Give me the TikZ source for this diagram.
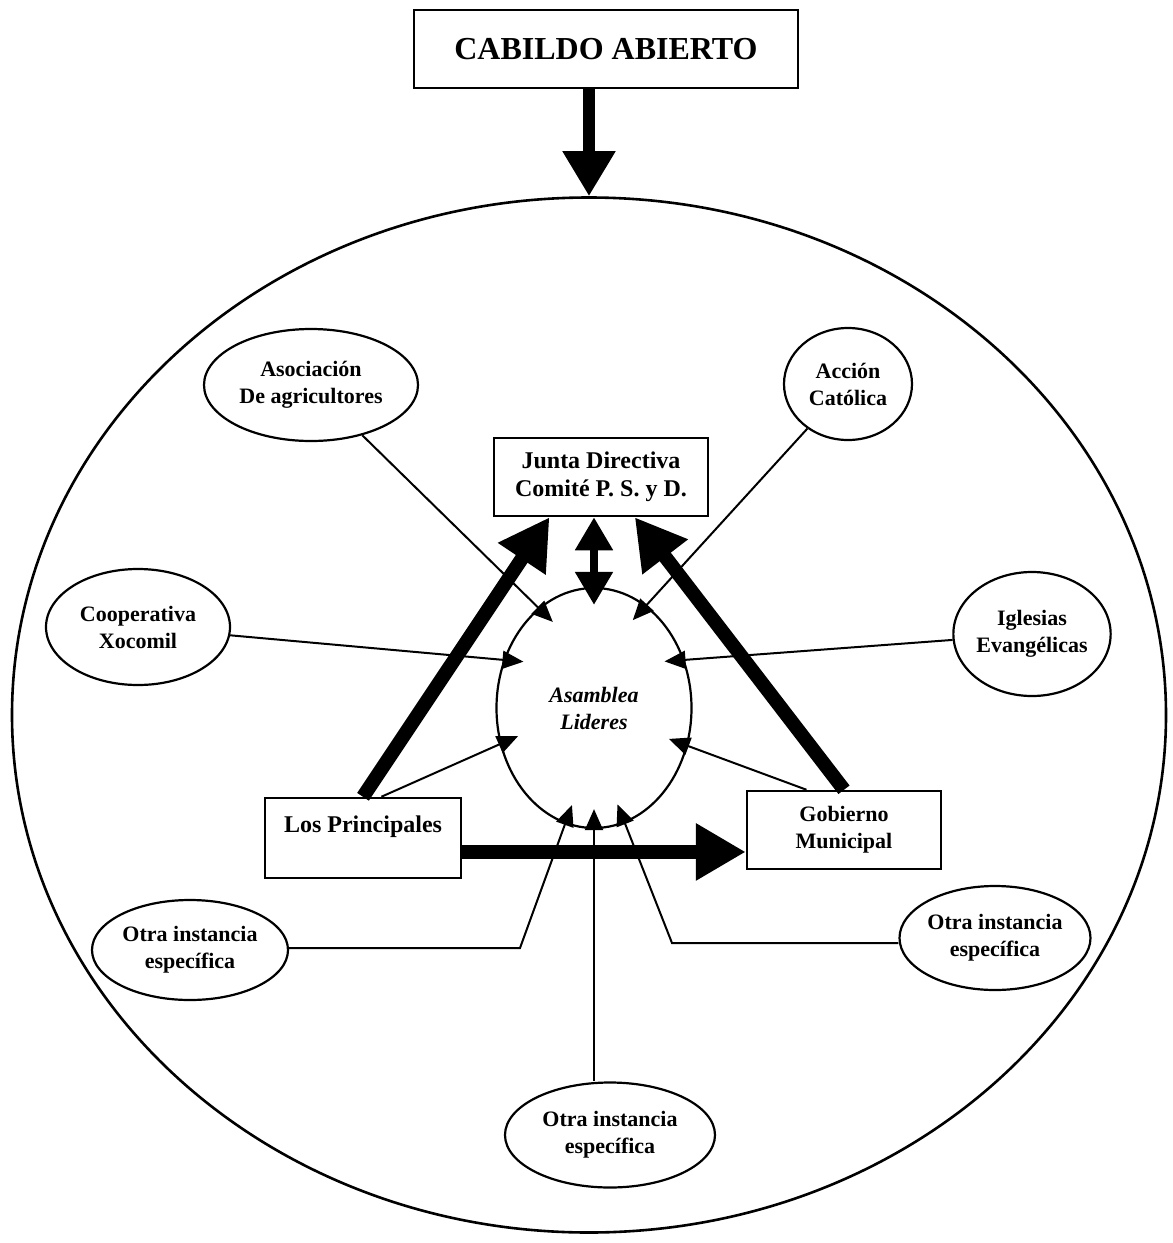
\documentclass[tikz,border=0pt]{standalone}
\usepackage{fontspec}
\setmainfont{Liberation Serif}
\usetikzlibrary{shapes.geometric,arrows.meta}
\tikzset{every node/.style={font=\bfseries\fontsize{22}{27}\selectfont, align=center}}

\begin{document}
\begin{tikzpicture}[x=1pt, y=-1pt,
    org/.style={draw, ellipse, line width=2.2pt, inner sep=0pt},
    caja/.style={draw, rectangle, line width=2.5pt, inner sep=0pt},
    grande/.style={font=\bfseries\fontsize{24}{28}\selectfont},
    flecha/.style={line width=2pt, shorten >=-20pt, -{Triangle[length=21pt,width=18pt]}},
    gruesa/.style={line width=14pt, -{Triangle[length=50pt,width=54pt]}},
    doble/.style={line width=8pt, shorten >=-18pt, {Triangle[length=33pt,width=36pt]}-{Triangle[length=33pt,width=36pt]}}]
  \useasboundingbox (0,0) rectangle (1173,1243);
  % outer frame and top box
  \node[org, line width=2.6pt, minimum width=1154pt, minimum height=1035pt] (campo) at (589,715) {};
  \node[caja, minimum width=384pt, minimum height=78pt, font=\bfseries\fontsize{32}{36}\selectfont] (cab) at (606,49) {CABILDO ABIERTO};
  \draw[line width=12pt, -{Triangle[length=45pt,width=50pt]}] (cab.south -| campo.north) -- (campo.north);

  % centre
  \node[org, minimum width=195pt, minimum height=240pt] (asam) at (594,708) {\itshape Asamblea\\\itshape Lideres};
  \node[caja, grande, minimum width=214pt, minimum height=78pt] (junta) at (601,477) {Junta Directiva\\Comité P. S. y D.};
  \node[caja, grande, minimum width=196pt, minimum height=80pt, text depth=28pt] (princ) at (363,838) {Los Principales};
  \node[caja, minimum width=194pt, minimum height=78pt] (gob) at (844,830) {Gobierno\\Municipal};

  % organisations
  \node[org, minimum width=214pt, minimum height=112pt] (asoc) at (311,385) {Asociación\\De agricultores};
  \node[org, minimum width=128pt, minimum height=112pt] (accion) at (848,384) {Acción\\Católica};
  \node[org, minimum width=184pt, minimum height=116pt] (coop) at (138,627) {Cooperativa\\Xocomil};
  \node[org, minimum width=144pt, minimum height=124pt] (igle) at (1032,634) {Iglesias\\Evangélicas};
  \node[org, minimum width=196pt, minimum height=100pt] (otral) at (190,950) {Otra instancia\\específica};
  \node[org, minimum width=184pt, minimum height=104pt] (otrar) at (995,938) {Otra instancia\\específica};
  \node[org, minimum width=210pt, minimum height=105pt] (otrab) at (610,1135) {Otra instancia\\específica};

  % thin connectors into the assembly
  \foreach \from/\ang in {asoc/119, accion/63, coop/152, igle/28, princ.66/201, gob.133/338}
    \draw[flecha] (\from) -- (asam.\ang);
  \coordinate (codol) at (520,948);
  \coordinate (codor) at (672,943);
  \draw[flecha] (otral.east |- codol) -- (codol) -- (asam.256);
  \draw[flecha] (otrar.west |- codor) -- (codor) -- (asam.285);
  \draw[flecha] (otrab.north -| asam.south) -- (asam.south);

  % heavy connectors
  \draw[doble, shorten <=0pt] (junta.south -| asam.north) -- (asam.north);
  \draw[gruesa] (princ.north) -- (junta.218);
  \draw[gruesa, {Triangle[length=50pt,width=54pt]}-] (junta.310) -- (gob.north);
  \draw[gruesa] (princ.352) -- (princ.352 -| gob.west);
\end{tikzpicture}
\end{document}
